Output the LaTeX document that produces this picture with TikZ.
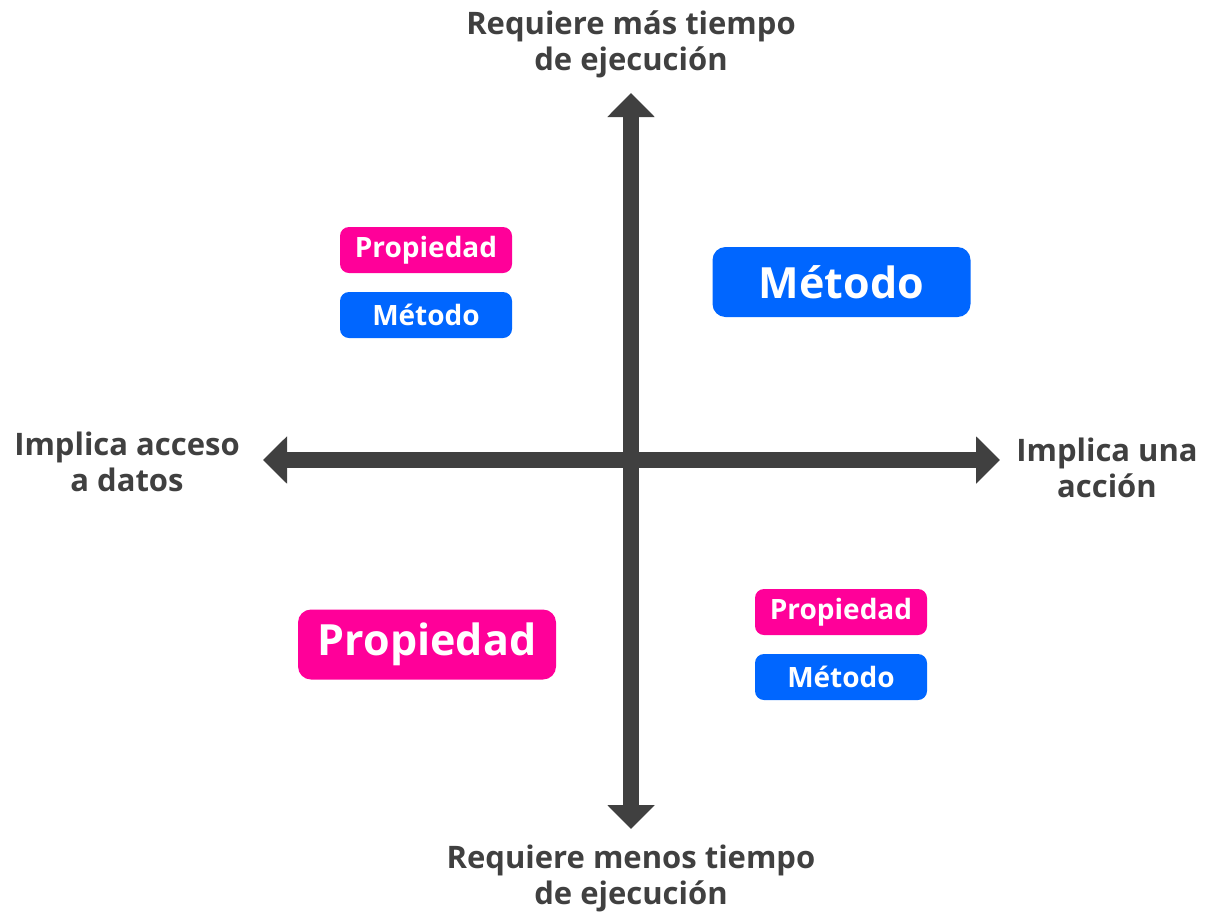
\documentclass[tikz,border=0pt]{standalone}
\usepackage{fontspec}
\setmainfont{Open Sans}
\usetikzlibrary{arrows.meta}
\definecolor{axisgray}{HTML}{404040}
\definecolor{pinkbox}{HTML}{FF0099}
\definecolor{bluebox}{HTML}{0066FF}
\begin{document}
\begin{tikzpicture}[x=1pt,y=-1pt,
  axisline/.style={draw=axisgray,line width=16pt,-{Triangle[width=46pt,length=24pt]}},
  axislabel/.style={text=axisgray,font=\fontsize{31}{36}\selectfont\bfseries,align=center,inner sep=0pt},
  smallbox/.style={rounded corners=9pt,minimum width=172pt,minimum height=46pt,inner sep=0pt,text=white,font=\fontsize{28}{30}\selectfont\bfseries},
  bigbox/.style={rounded corners=13pt,minimum width=258pt,minimum height=70pt,inner sep=0pt,text=white,font=\fontsize{43}{48}\selectfont\bfseries},
]
\useasboundingbox (0,0) rectangle (1207,911);
\coordinate (top) at (631,93);
\coordinate (bottom) at (631,829);
\coordinate (left) at (263,460);
\coordinate (right) at (1000,460);
\coordinate (center) at (631,460);
\draw[axisline] (center) -- (top);
\draw[axisline] (center) -- (bottom);
\draw[axisline] (center) -- (left);
\draw[axisline] (center) -- (right);
\node[axislabel] (ltop) at (631,44.5) {Requiere más tiempo\\de ejecución};
\node[axislabel] (lbottom) at (631,878) {Requiere menos tiempo\\de ejecución};
\node[axislabel] (lleft) at (127,462) {Implica acceso\\a datos};
\node[axislabel] (lright) at (1107,467.5) {Implica una\\acción};
\node[smallbox,fill=pinkbox] (p1) at (426,250) {Propiedad};
\node[smallbox,fill=bluebox] (m1) at (426,315) {Método};
\node[bigbox,fill=bluebox] (m2) at (841.5,282) {Método};
\node[bigbox,fill=pinkbox] (p2) at (427,644.5) {Propiedad};
\node[smallbox,fill=pinkbox] (p3) at (841,612) {Propiedad};
\node[smallbox,fill=bluebox] (m3) at (841,677) {Método};
\end{tikzpicture}
\end{document}
